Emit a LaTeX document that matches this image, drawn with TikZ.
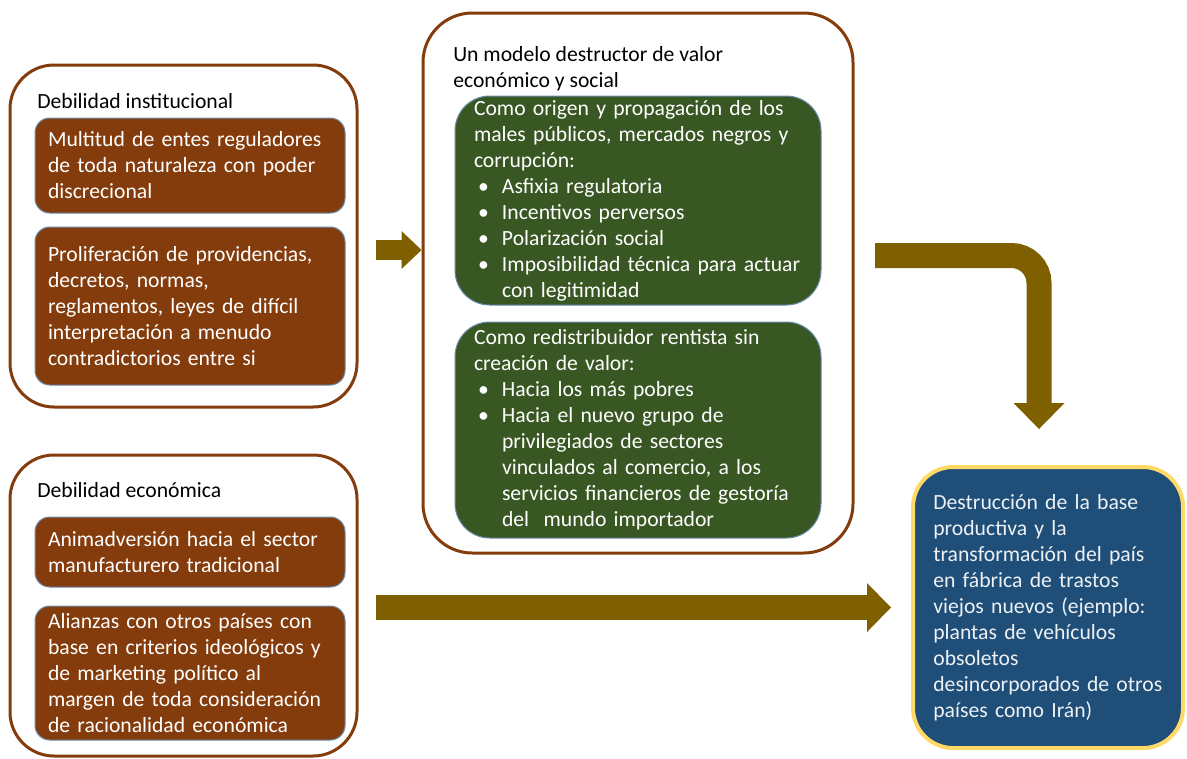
\documentclass[tikz,border=0pt]{standalone}
\usepackage{fontspec}
\setmainfont{Carlito}
\usetikzlibrary{arrows.meta}
\definecolor{rustc}{HTML}{843C0C}
\definecolor{mossc}{HTML}{385723}
\definecolor{navyc}{HTML}{1F4E79}
\definecolor{goldc}{HTML}{FFD966}
\definecolor{arrowc}{HTML}{7F6000}
\definecolor{steelc}{HTML}{6A8CAF}
\newcommand{\bulitem}{\hspace*{3pt}\makebox[18pt][l]{\textbullet}}
\newcommand{\bulcont}{\hspace*{21pt}}
\begin{document}
\begin{tikzpicture}
[every node/.style={inner sep=0pt, font=\fontsize{16.25pt}{19.5pt}\selectfont},
 frame/.style={rectangle, rounded corners=33pt, line width=2.25pt, draw=rustc},
 brownbox/.style={rectangle, rounded corners=11pt, minimum width=232.5pt, text width=213pt, align=left, fill=rustc, line width=0.75pt, draw=steelc, text=white},
 greenbox/.style={rectangle, rounded corners=26pt, minimum width=274.5pt, text width=246pt, align=left, fill=mossc, line width=0.75pt, draw=steelc, text=white},
 bigarrow/.style={line width=18.75pt, color=arrowc}]
\useasboundingbox [fill=white] (0pt, 0pt) rectangle (890.25pt, -568.5pt);
\node (1) [frame, minimum width=260.25pt, minimum height=256.5pt] at (137.625pt, -177pt) {};
\node (2) [anchor=west, text=black] at (27.75pt, -75.75pt) {Debilidad institucional};
\node (3) [brownbox, minimum height=71.25pt] at (142.5pt, -124.125pt) {Multitud de entes reguladores\\ de toda naturaleza con poder\\ discrecional};
\node (4) [brownbox, minimum height=118.5pt] at (142.5pt, -229.5pt) {Proliferación de providencias,\\ decretos, normas,\\ reglamentos, leyes de difícil\\ interpretación a menudo\\ contradictorios entre si};
\node (5) [frame, minimum width=260.25pt, minimum height=225.75pt] at (137.625pt, -454.125pt) {};
\node (6) [anchor=west, text=black] at (27.75pt, -367.5pt) {Debilidad económica};
\node (7) [brownbox, minimum height=52.5pt] at (142.5pt, -414pt) {Animadversión hacia el sector\\ manufacturero tradicional};
\node (8) [brownbox, minimum height=100.5pt] at (142.5pt, -504.75pt) {Alianzas con otros países con\\ base en criterios ideológicos y\\ de marketing político al\\ margen de toda consideración\\ de racionalidad económica};
\node (9) [frame, rounded corners=37pt, minimum width=322.5pt, minimum height=405pt] at (478.5pt, -212.25pt) {};
\node (10) [anchor=west, align=left, text=black] at (339.75pt, -51.75pt) {Un modelo destructor de valor\\ económico y social};
\node (11) [greenbox, minimum height=156.75pt] at (478.5pt, -150.375pt) {\mbox{Como origen y propagación de los}\\ \mbox{males públicos, mercados negros y}\\ corrupción:\\ \bulitem Asfixia regulatoria\\ \bulitem Incentivos perversos\\ \bulitem Polarización social\\ \mbox{\bulitem Imposibilidad técnica para actuar}\\ \bulcont con legitimidad};
\node (12) [greenbox, minimum height=162pt] at (478.5pt, -322.5pt) {Como redistribuidor rentista sin\\ creación de valor:\\ \bulitem Hacia los más pobres\\ \bulitem Hacia el nuevo grupo de\\ \bulcont privilegiados de sectores\\ \mbox{\bulcont vinculados al comercio, a los}\\ \mbox{\bulcont servicios financieros de gestoría}\\ \bulcont del\ \ mundo importador};
\node (13) [rectangle, rounded corners=30pt, minimum width=202.5pt, minimum height=210.75pt, text width=172pt, align=left, fill=navyc, line width=3pt, draw=goldc, text=white!92!navyc] at (786pt, -455.625pt) {Destrucción de la base\\ productiva y la\\ \mbox{transformación del país}\\ en fábrica de trastos\\ \mbox{viejos nuevos (ejemplo:}\\ plantas de vehículos\\ obsoletos\\ \mbox{desincorporados de otros}\\ países como Irán)};
\coordinate (a) at (282pt, -187.5pt);
\coordinate (b) at (656.25pt, -191.625pt);
\coordinate (c) at (779.25pt, -321.75pt);
\coordinate (d) at (282pt, -455.625pt);
\draw [line width=15pt, color=arrowc, -{Triangle[length=15pt, width=28.5pt, line width=0pt]}] (a) to (a -| 9.west);
\draw [bigarrow, rounded corners=20.6pt, -{Triangle[length=19.5pt, width=38.25pt, line width=0pt]}] (b) -| (c);
\draw [bigarrow, -{Triangle[length=18pt, width=36.75pt, line width=0pt]}] (d) to ([xshift=-15pt]13.west);

\end{tikzpicture}
\end{document}
